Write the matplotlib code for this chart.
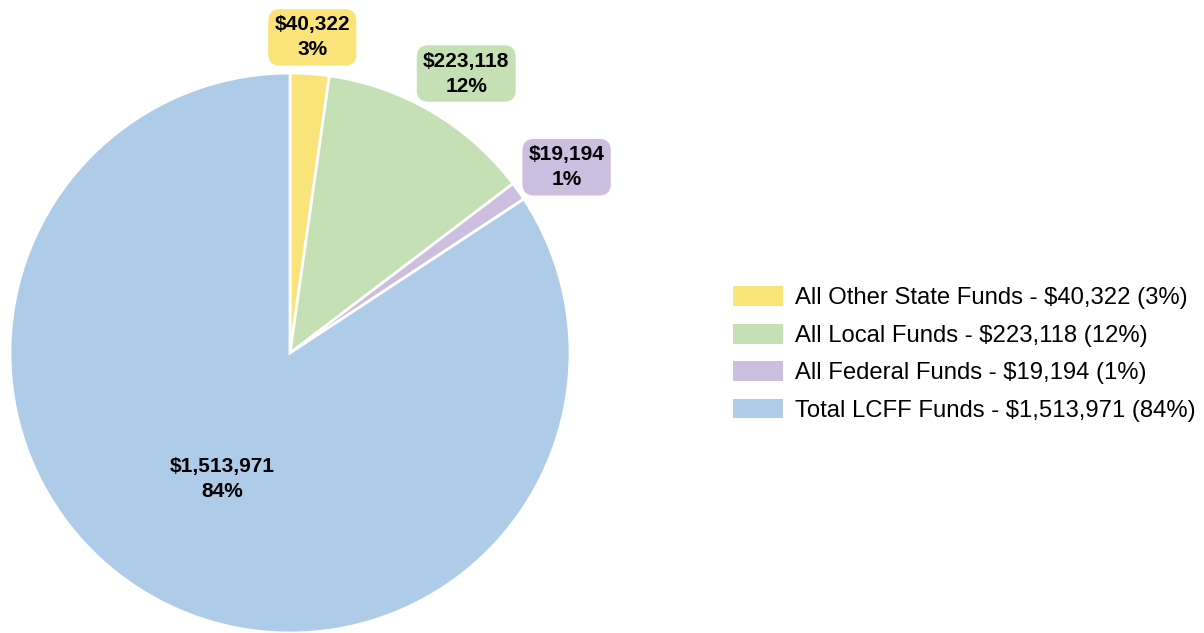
import numpy as np
import matplotlib.pyplot as plt
from matplotlib.patches import Patch

plt.rcParams["font.family"] = ["Liberation Sans", "DejaVu Sans"]

# ─── Data ────────────────────────────────────────────────────
categories = ["All Other State Funds", "All Local Funds", "All Federal Funds", "Total LCFF Funds"]
amounts = [40322, 223118, 19194, 1513971]
percents = [3, 12, 1, 84]
colors = ["#FAE47A", "#C5E0B4", "#CBBEDF", "#AECBE8"]

W, H = 1204, 633
fig = plt.figure(figsize=(W / 100, H / 100), dpi=100)

# pie centre at (290, 353) px, radius 280 px
cx, cy, r = 290, 353, 280
ax = fig.add_axes([(cx - r) / W, (H - cy - r) / H, 2 * r / W, 2 * r / H])
wedges, _ = ax.pie(
    amounts, colors=colors, startangle=90, counterclock=False,
    radius=1, wedgeprops=dict(edgecolor="white", linewidth=2),
)
ax.set_xlim(-1, 1)
ax.set_ylim(-1, 1)
ax.set_aspect("equal")
ax.axis("off")

# data labels: outside for small slices, inside for the big one
label_r = [1.13, 1.18, 1.19, 0.51]
label_shift = [0, -1.8, -1.4, 0]   # degrees
for w, amt, pct, col, lr, sh in zip(wedges, amounts, percents, colors, label_r, label_shift):
    mid = np.deg2rad((w.theta1 + w.theta2) / 2 + sh)
    x, y = lr * np.cos(mid), lr * np.sin(mid)
    txt = f"${amt:,}\n{pct}%"
    if lr > 1:
        ax.text(x, y, txt, ha="center", va="center", fontsize=15, fontweight="bold",
                linespacing=1.4, clip_on=False,
                bbox=dict(boxstyle="round,pad=0.3,rounding_size=0.55", fc=col, ec="none"))
    else:
        ax.text(x, y, txt, ha="center", va="center", fontsize=15, fontweight="bold",
                linespacing=1.4)

# ─── Legend ──────────────────────────────────────────────────
handles = [Patch(facecolor=c, edgecolor="none") for c in colors]
labels = [f"{c} - ${a:,} ({p}%)" for c, a, p in zip(categories, amounts, percents)]
fig.legend(handles, labels, loc="center left", bbox_to_anchor=(733 / W, 1 - 354 / H),
           frameon=False, fontsize=17.2, handlelength=2.1, handleheight=0.9,
           handletextpad=0.5, labelspacing=0.6, borderaxespad=0, borderpad=0)

fig.savefig("out.png", dpi=100)
